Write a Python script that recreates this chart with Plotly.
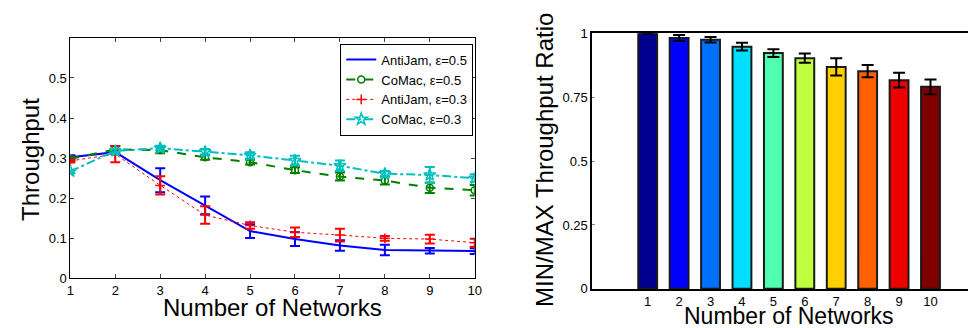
import plotly.graph_objects as go

networks = [1, 2, 3, 4, 5, 6, 7, 8, 9, 10]

aj05 = [0.302, 0.315, 0.245, 0.182, 0.118, 0.098, 0.082, 0.071, 0.069, 0.068]
aj05_err = [0.005, 0.005, 0.030, 0.022, 0.017, 0.017, 0.013, 0.013, 0.007, 0.007]
cm05 = [0.298, 0.322, 0.320, 0.302, 0.290, 0.270, 0.254, 0.244, 0.226, 0.220]
cm05_err = [0.005, 0.008, 0.008, 0.006, 0.006, 0.007, 0.010, 0.010, 0.013, 0.013]
aj03 = [0.293, 0.310, 0.232, 0.158, 0.132, 0.115, 0.108, 0.100, 0.098, 0.089]
aj03_err = [0.004, 0.020, 0.023, 0.022, 0.008, 0.012, 0.016, 0.006, 0.011, 0.010]
cm03 = [0.267, 0.318, 0.325, 0.316, 0.307, 0.294, 0.281, 0.261, 0.258, 0.250]
cm03_err = [0.004, 0.006, 0.006, 0.007, 0.008, 0.012, 0.013, 0.007, 0.020, 0.010]

ratio = [1.0, 0.981, 0.974, 0.947, 0.922, 0.902, 0.868, 0.851, 0.816, 0.790]
ratio_err = [0.0, 0.012, 0.011, 0.015, 0.015, 0.018, 0.034, 0.024, 0.029, 0.029]
bar_colors = ["#00008F", "#0000FF", "#0070FF", "#00DFFF", "#50FFAF",
              "#BFFF40", "#FFCF00", "#FF6000", "#EF0000", "#800000"]

left_y_ticks = [0, 0.1, 0.2, 0.3, 0.4, 0.5]
right_y_ticks = [0, 0.25, 0.5, 0.75, 1]
right_y_labels = ["0", "0.25", "0.5", "0.75", "1"]

FONT = "Liberation Sans, Arial, sans-serif"
W, H = 976, 328

fig = go.Figure()

series = [
    ("AntiJam, ε=0.5", aj05, aj05_err, "#0000FF", "solid", 2, None, 6),
    ("CoMac, ε=0.5", cm05, cm05_err, "#008000", "dash", 2, "circle-open", 7),
    ("AntiJam, ε=0.3", aj03, aj03_err, "#FF0000", "dot", 1, "cross-thin-open", 7),
    ("CoMac, ε=0.3", cm03, cm03_err, "#00BFBF", "dashdot", 2, "star-open", 9),
]
for name, vals, errs, col, dash, lw, sym, ms in series:
    mode = "lines+markers" if sym else "lines"
    fig.add_trace(go.Scatter(
        x=networks, y=vals, name=name, mode=mode,
        line=dict(color=col, dash=dash, width=lw),
        marker=dict(symbol=sym or "circle", size=ms, color=col,
                    line=dict(color=col, width=1.5)),
        error_y=dict(type="data", array=errs, visible=True, color=col,
                     thickness=2, width=5),
        xaxis="x", yaxis="y",
    ))

fig.add_trace(go.Bar(
    x=networks, y=ratio, width=0.6, showlegend=False,
    marker=dict(color=bar_colors, line=dict(color="#1a1a1a", width=2)),
    error_y=dict(type="data", array=ratio_err, visible=True, color="black",
                 thickness=2, width=6),
    xaxis="x2", yaxis="y2",
))

def px_x(p):
    return p / W

def px_y(p):
    return (H - p) / H

fig.update_layout(
    width=W, height=H,
    margin=dict(l=0, r=0, t=0, b=0),
    paper_bgcolor="white", plot_bgcolor="white",
    font=dict(family=FONT, size=13, color="#000"),
    showlegend=True,
    legend=dict(x=px_x(332), y=px_y(30), xanchor="left", yanchor="top",
                bgcolor="white", bordercolor="black", borderwidth=1,
                font=dict(size=13, family=FONT), itemwidth=30,
                tracegroupgap=0),
    xaxis=dict(domain=[px_x(59), px_x(468)], range=[1, 10],
               tickvals=networks, ticks="inside", ticklen=4,
               showline=True, linecolor="black", linewidth=1, mirror="ticks",
               showgrid=False, zeroline=False, tickfont=dict(size=13),
               anchor="y"),
    yaxis=dict(domain=[px_y(276), px_y(24)], range=[0, 0.6],
               tickvals=left_y_ticks, ticks="inside", ticklen=4,
               showline=True, linecolor="black", linewidth=1, mirror="ticks",
               showgrid=False, zeroline=False, tickfont=dict(size=13),
               anchor="x"),
    xaxis2=dict(domain=[px_x(587), 1.0], range=[-0.76, 11.48],
                tickvals=networks, ticks="", showline=True,
                linecolor="black", linewidth=2, mirror=True,
                showgrid=False, zeroline=False, tickfont=dict(size=13),
                anchor="y2"),
    yaxis2=dict(domain=[px_y(287), px_y(19)], range=[0, 1],
                tickvals=right_y_ticks, ticktext=right_y_labels,
                ticks="inside", ticklen=3, tickcolor="#888",
                showline=True, linecolor="black", linewidth=2, mirror=False,
                showgrid=False, zeroline=False, tickfont=dict(size=13),
                anchor="x2"),
    annotations=[
        dict(text="Throughput", x=px_x(18), y=px_y(151), xref="paper",
             yref="paper", textangle=-90, showarrow=False,
             xanchor="center", yanchor="middle",
             font=dict(size=24, family=FONT)),
        dict(text="Number of Networks", x=px_x(263), y=px_y(306),
             xref="paper", yref="paper", showarrow=False,
             xanchor="center", yanchor="middle",
             font=dict(size=24, family=FONT)),
        dict(text="MIN/MAX Throughput Ratio", x=px_x(538), y=px_y(152),
             xref="paper", yref="paper", textangle=-90, showarrow=False,
             xanchor="center", yanchor="middle",
             font=dict(size=24, family=FONT)),
        dict(text="Number of Networks", x=px_x(786), y=px_y(315),
             xref="paper", yref="paper", showarrow=False,
             xanchor="center", yanchor="middle", borderpad=0,
             font=dict(size=23, family=FONT)),
    ],
)

fig.write_html("out.html")
